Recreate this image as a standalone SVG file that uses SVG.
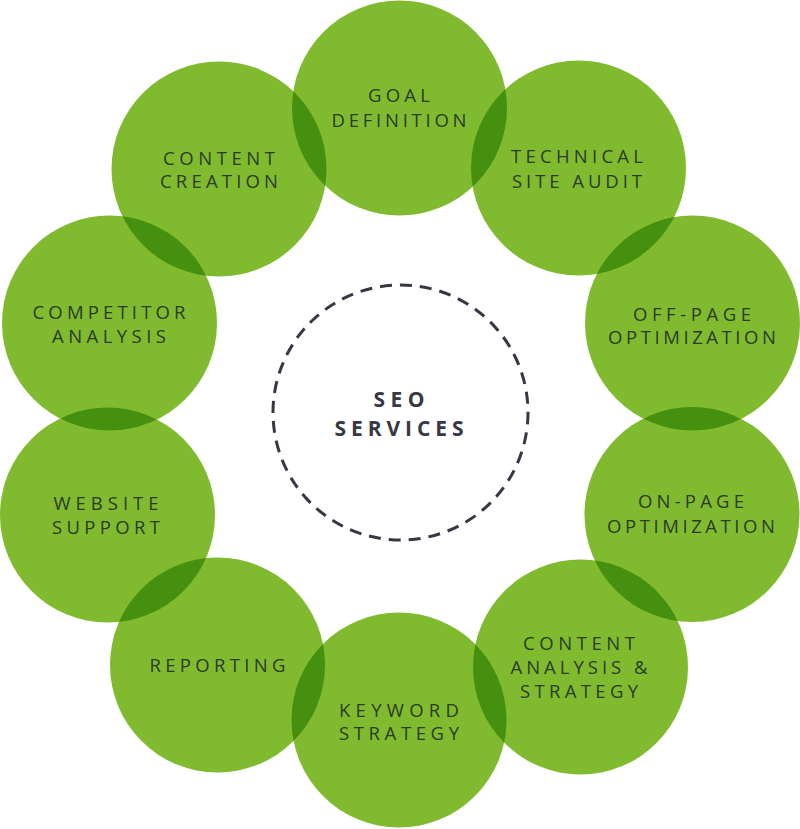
<svg xmlns="http://www.w3.org/2000/svg" width="800" height="829" viewBox="0 0 800 829">
<style>
.c{fill:#80bb2f}
.l{fill:#45900f}
.t{font-family:"Open Sans",Lato,"Liberation Sans",sans-serif;font-size:18.5px;font-weight:400;fill:#2b3a2a;text-anchor:middle}
.s{font-family:"Open Sans",Lato,"Liberation Sans",sans-serif;font-size:21px;font-weight:700;fill:#363844;text-anchor:middle}
</style>
<defs>
<clipPath id="k0"><circle cx="399.5" cy="108" r="107.5"/></clipPath>
<clipPath id="k1"><circle cx="578.5" cy="168" r="107.5"/></clipPath>
<clipPath id="k2"><circle cx="692.5" cy="323" r="107.5"/></clipPath>
<clipPath id="k3"><circle cx="692" cy="514.5" r="107.5"/></clipPath>
<clipPath id="k4"><circle cx="580.5" cy="667" r="107.5"/></clipPath>
<clipPath id="k5"><circle cx="399" cy="720" r="107.5"/></clipPath>
<clipPath id="k6"><circle cx="217.5" cy="665" r="107.5"/></clipPath>
<clipPath id="k7"><circle cx="107.5" cy="515" r="107.5"/></clipPath>
<clipPath id="k8"><circle cx="109.5" cy="323" r="107.5"/></clipPath>
<clipPath id="k9"><circle cx="219" cy="169" r="107.5"/></clipPath>
</defs>
<g id="circles">
<g id="goal-definition"><circle class="c" cx="399.5" cy="108" r="107.5"/></g>
<g id="technical-site-audit"><circle class="c" cx="578.5" cy="168" r="107.5"/></g>
<g id="off-page-optimization"><circle class="c" cx="692.5" cy="323" r="107.5"/></g>
<g id="on-page-optimization"><circle class="c" cx="692" cy="514.5" r="107.5"/></g>
<g id="content-analysis-strategy"><circle class="c" cx="580.5" cy="667" r="107.5"/></g>
<g id="keyword-strategy"><circle class="c" cx="399" cy="720" r="107.5"/></g>
<g id="reporting"><circle class="c" cx="217.5" cy="665" r="107.5"/></g>
<g id="website-support"><circle class="c" cx="107.5" cy="515" r="107.5"/></g>
<g id="competitor-analysis"><circle class="c" cx="109.5" cy="323" r="107.5"/></g>
<g id="content-creation"><circle class="c" cx="219" cy="169" r="107.5"/></g>
</g>
<g id="overlaps">
<circle class="l" cx="578.5" cy="168" r="107.5" clip-path="url(#k0)"/>
<circle class="l" cx="692.5" cy="323" r="107.5" clip-path="url(#k1)"/>
<circle class="l" cx="692" cy="514.5" r="107.5" clip-path="url(#k2)"/>
<circle class="l" cx="580.5" cy="667" r="107.5" clip-path="url(#k3)"/>
<circle class="l" cx="399" cy="720" r="107.5" clip-path="url(#k4)"/>
<circle class="l" cx="217.5" cy="665" r="107.5" clip-path="url(#k5)"/>
<circle class="l" cx="107.5" cy="515" r="107.5" clip-path="url(#k6)"/>
<circle class="l" cx="109.5" cy="323" r="107.5" clip-path="url(#k7)"/>
<circle class="l" cx="219" cy="169" r="107.5" clip-path="url(#k8)"/>
<circle class="l" cx="399.5" cy="108" r="107.5" clip-path="url(#k9)"/>
</g>
<g id="labels">
<text class="t" x="399" y="102" textLength="62" lengthAdjust="spacing">GOAL</text>
<text class="t" x="399" y="127" textLength="135" lengthAdjust="spacing">DEFINITION</text>
<text class="t" x="577" y="163" textLength="132" lengthAdjust="spacing">TECHNICAL</text>
<text class="t" x="577" y="188" textLength="130" lengthAdjust="spacing">SITE AUDIT</text>
<text class="t" x="692" y="321" textLength="118" lengthAdjust="spacing">OFF-PAGE</text>
<text class="t" x="692" y="344" textLength="168" lengthAdjust="spacing">OPTIMIZATION</text>
<text class="t" x="691" y="508" textLength="106" lengthAdjust="spacing">ON-PAGE</text>
<text class="t" x="691" y="533" textLength="168" lengthAdjust="spacing">OPTIMIZATION</text>
<text class="t" x="579" y="650" textLength="112" lengthAdjust="spacing">CONTENT</text>
<text class="t" x="579" y="674" textLength="137" lengthAdjust="spacing">ANALYSIS &amp;</text>
<text class="t" x="579" y="698" textLength="118" lengthAdjust="spacing">STRATEGY</text>
<text class="t" x="399" y="717" textLength="120" lengthAdjust="spacing">KEYWORD</text>
<text class="t" x="399" y="740" textLength="120" lengthAdjust="spacing">STRATEGY</text>
<text class="t" x="217.5" y="672" textLength="136" lengthAdjust="spacing">REPORTING</text>
<text class="t" x="106" y="510" textLength="105" lengthAdjust="spacing">WEBSITE</text>
<text class="t" x="106" y="534" textLength="108" lengthAdjust="spacing">SUPPORT</text>
<text class="t" x="109" y="319" textLength="153" lengthAdjust="spacing">COMPETITOR</text>
<text class="t" x="109" y="343" textLength="114" lengthAdjust="spacing">ANALYSIS</text>
<text class="t" x="219" y="165" textLength="112" lengthAdjust="spacing">CONTENT</text>
<text class="t" x="219" y="188" textLength="118" lengthAdjust="spacing">CREATION</text>
</g>
<g id="seo-services">
<circle cx="400.5" cy="412.5" r="127.5" fill="none" stroke="#363844" stroke-width="3" stroke-dasharray="12 8"/>
<text class="s" x="399" y="407" textLength="51" lengthAdjust="spacing">SEO</text>
<text class="s" x="399" y="436" textLength="129" lengthAdjust="spacing">SERVICES</text>
</g>
<g id="connectors"/>
</svg>
